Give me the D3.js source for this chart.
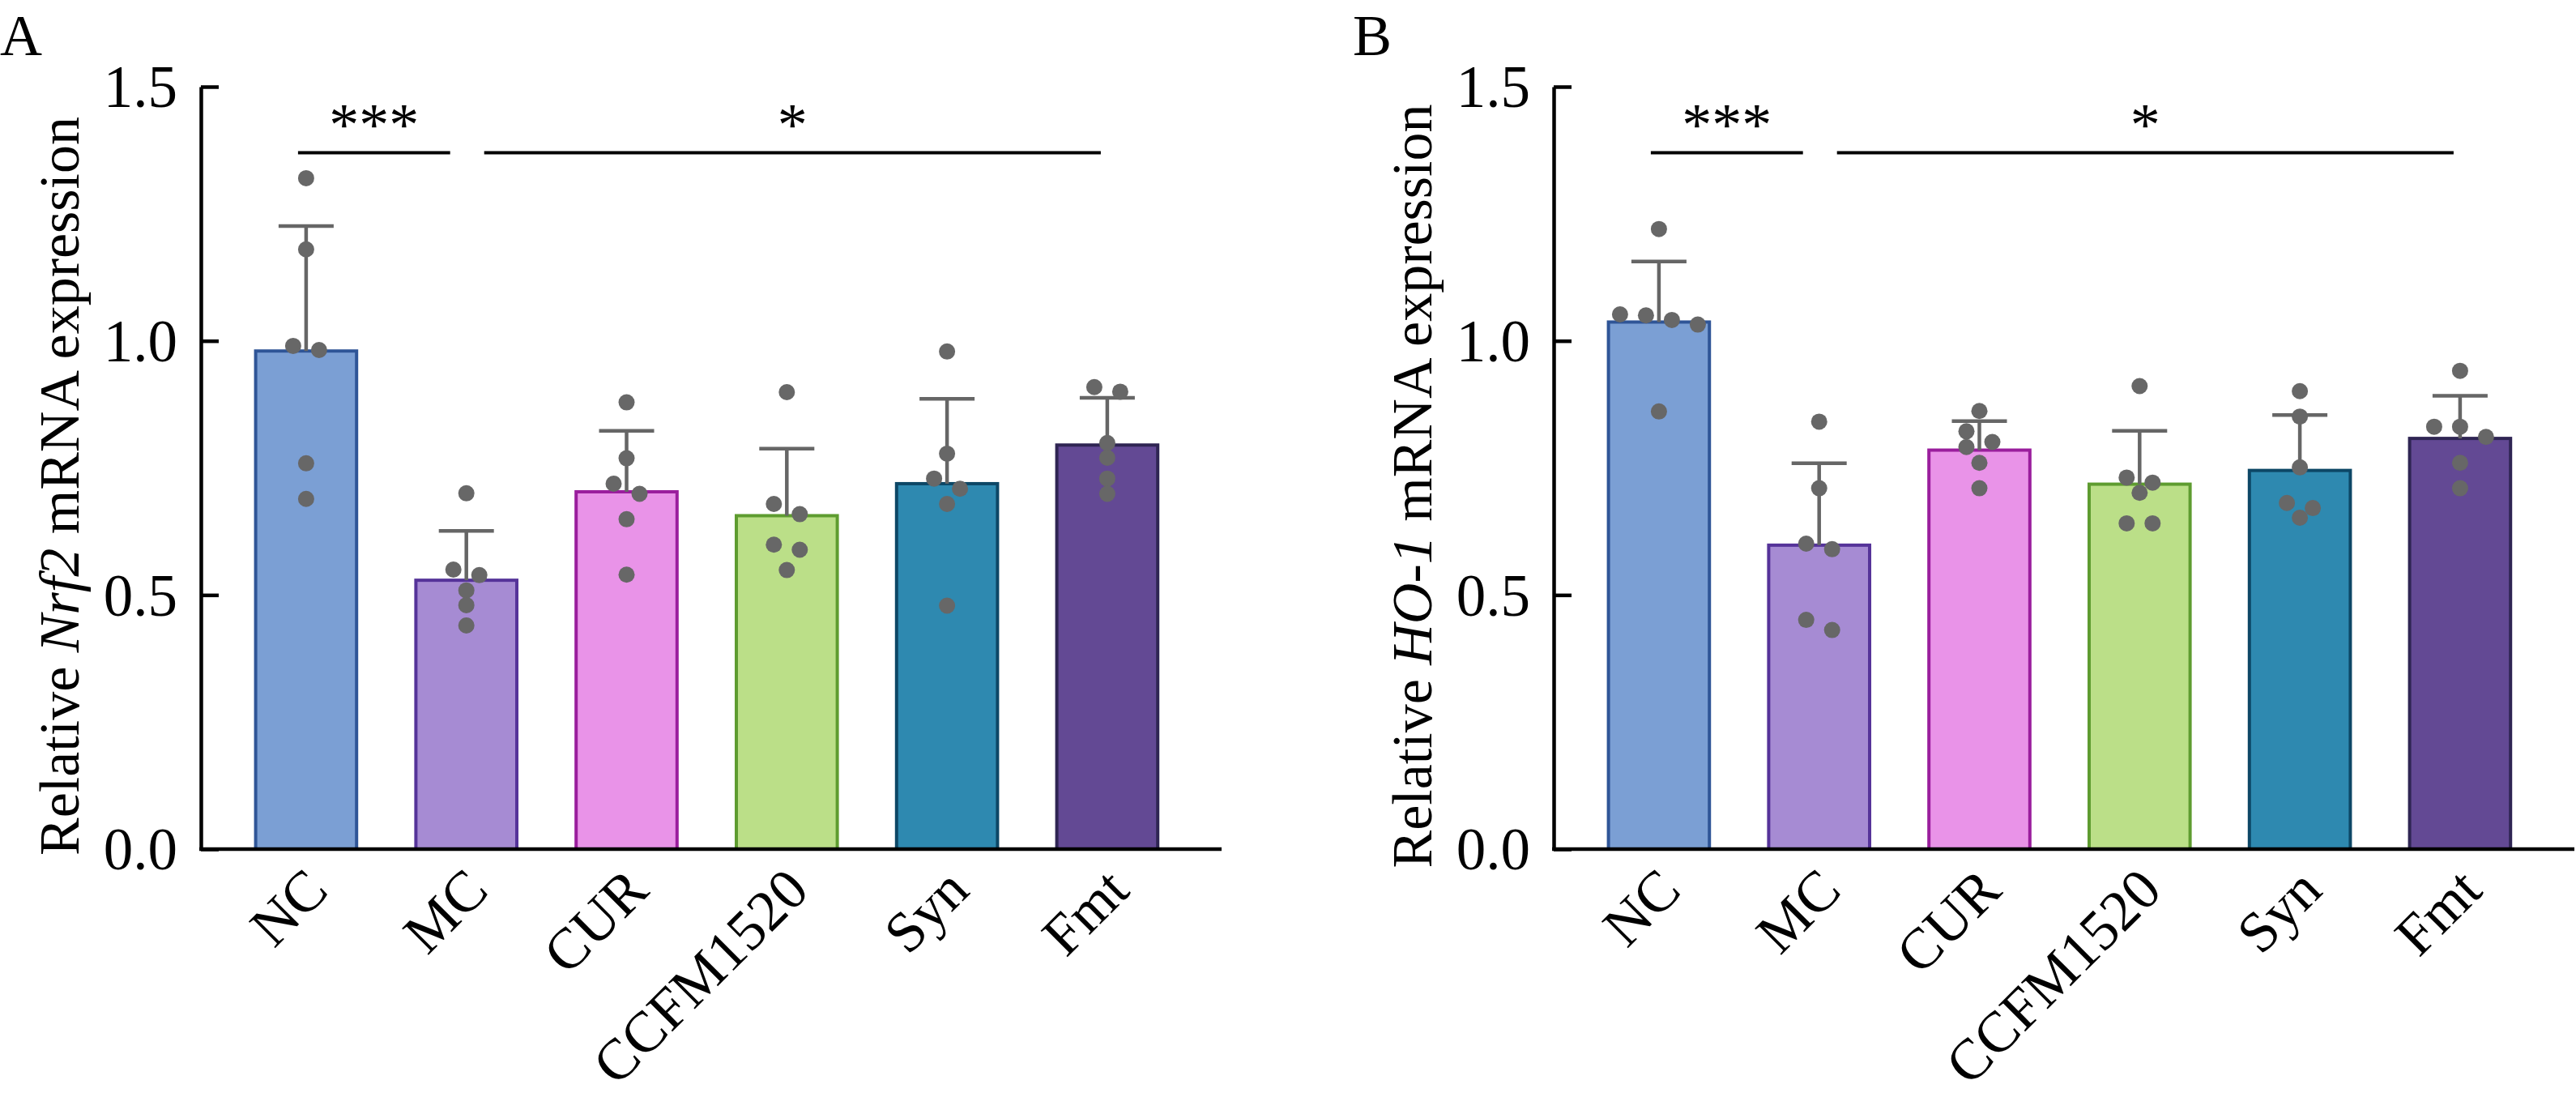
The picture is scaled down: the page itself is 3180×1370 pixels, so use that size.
<!DOCTYPE html>
<html>
<head>
<meta charset="utf-8">
<script src="https://cdn.jsdelivr.net/npm/d3@7"></script>
<style>
  body { margin: 0; background: #fff; }
  text { font-family: "Liberation Serif", "Times New Roman", serif; fill: #000; }
</style>
</head>
<body>
<div id="chart"></div>
<script>
// group names, bar colours
var groups = ["NC", "MC", "CUR", "CCFM1520", "Syn", "Fmt"];
var fills = ["#7b9fd4", "#a68bd3", "#e993e8", "#bbdf88", "#2e89b0", "#634994"];
var strokes = ["#2f5597", "#553399", "#9a1e9d", "#5e9c30", "#0d4766", "#2f2553"];
var yTicks = [0, 0.5, 1.0, 1.5];

// panel A: Nrf2
var meanA = [0.980, 0.529, 0.703, 0.656, 0.719, 0.795];
var sdA = [0.246, 0.097, 0.120, 0.132, 0.167, 0.093];
var dotsA = [
  [1.320, 1.180, 0.990, 0.982, 0.759, 0.689],
  [0.700, 0.550, 0.539, 0.509, 0.480, 0.440],
  [0.879, 0.769, 0.719, 0.699, 0.649, 0.540],
  [0.899, 0.679, 0.659, 0.599, 0.589, 0.549],
  [0.979, 0.778, 0.729, 0.709, 0.679, 0.479],
  [0.909, 0.900, 0.799, 0.770, 0.729, 0.699]
];

// panel B: HO-1
var meanB = [1.037, 0.598, 0.785, 0.718, 0.745, 0.808];
var sdB = [0.119, 0.161, 0.057, 0.105, 0.109, 0.084];
var dotsB = [
  [1.220, 1.052, 1.050, 1.041, 1.032, 0.861],
  [0.841, 0.710, 0.601, 0.590, 0.451, 0.431],
  [0.862, 0.822, 0.801, 0.791, 0.760, 0.710],
  [0.911, 0.731, 0.721, 0.701, 0.641, 0.641],
  [0.901, 0.851, 0.751, 0.681, 0.671, 0.652],
  [0.941, 0.831, 0.831, 0.811, 0.760, 0.710]
];

// significance bars: [from group, to group, label]
var sigs = [[0, 1, "***"], [1, 5, "*"]];
var sigLevel = 1.37;

var W = 3180, H = 1370;
var svg = d3.select("#chart").append("svg").attr("width", W).attr("height", H);

var y = d3.scaleLinear().domain([0, 1.5]).range([1048, 107]);

function panel(ox, letter, gene, means, sds, dots) {
  var g = svg.append("g");
  var x = d3.scaleBand().domain(groups)
    .range([ox + 31, ox + 31 + 6 * 197.8])
    .paddingInner(0.37).paddingOuter(0.185);
  var bw = x.bandwidth();

  // bars
  g.selectAll("rect.bar").data(groups).enter().append("rect")
    .attr("class", "bar")
    .attr("x", function (d) { return x(d); })
    .attr("y", function (d, i) { return y(means[i]); })
    .attr("width", bw)
    .attr("height", function (d, i) { return y(0) - y(means[i]); })
    .style("fill", function (d, i) { return fills[i]; })
    .style("stroke", function (d, i) { return strokes[i]; })
    .style("stroke-width", 4);

  // error bars (mean + SD)
  var eb = g.selectAll("g.err").data(groups).enter().append("g").attr("class", "err");
  eb.append("line")
    .attr("x1", function (d) { return x(d) + bw / 2; })
    .attr("x2", function (d) { return x(d) + bw / 2; })
    .attr("y1", function (d, i) { return y(means[i]); })
    .attr("y2", function (d, i) { return y(means[i] + sds[i]); })
    .style("stroke", "#666").style("stroke-width", 4.5);
  eb.append("line")
    .attr("x1", function (d) { return x(d) + bw / 2 - 34; })
    .attr("x2", function (d) { return x(d) + bw / 2 + 34; })
    .attr("y1", function (d, i) { return y(means[i] + sds[i]); })
    .attr("y2", function (d, i) { return y(means[i] + sds[i]); })
    .style("stroke", "#666").style("stroke-width", 4.5);

  // scatter: rows of close values spread sideways, singles nudged if they collide
  var pts = [];
  groups.forEach(function (grp, gi) {
    var cx = x(grp) + bw / 2;
    var vals = dots[gi].slice().sort(function (a, b) { return b - a; });
    var rows = [];
    vals.forEach(function (v) {
      var last = rows[rows.length - 1];
      if (last && (y(v) - y(last[0])) < 15) last.push(v);
      else rows.push([v]);
    });
    var placed = [];
    rows.forEach(function (row) {
      if (row.length > 1) {
        row.forEach(function (v, k) {
          placed.push({ cx: cx + (k - (row.length - 1) / 2) * 32, cy: y(v) });
        });
      } else {
        var cy = y(row[0]);
        var offs = [0, -16, 16, -32, 32];
        for (var j = 0; j < offs.length; j++) {
          var px = cx + offs[j];
          var hit = placed.some(function (q) {
            return Math.hypot(q.cx - px, q.cy - cy) < 18;
          });
          if (!hit || j === offs.length - 1) { placed.push({ cx: px, cy: cy }); break; }
        }
      }
    });
    pts = pts.concat(placed);
  });
  g.selectAll("circle.dot").data(pts).enter().append("circle")
    .attr("class", "dot")
    .attr("cx", function (d) { return d.cx; })
    .attr("cy", function (d) { return d.cy; })
    .attr("r", 10)
    .style("fill", "#676767");

  // y axis
  var ya = g.append("g").attr("transform", "translate(" + ox + ",0)")
    .call(d3.axisLeft(y).tickValues(yTicks).tickFormat(d3.format(".1f"))
      .tickSizeInner(-22).tickSizeOuter(0).tickPadding(29));
  ya.select(".domain").style("stroke", "#000").style("stroke-width", 4.5);
  ya.selectAll(".tick line").style("stroke", "#000").style("stroke-width", 4.5);
  ya.selectAll(".tick text").style("font-size", "73px")
    .style("font-family", "'Liberation Serif', 'Times New Roman', serif").attr("dy", "0.34em");

  // x axis line
  g.append("line").attr("x1", ox - 2).attr("x2", ox + 1260)
    .attr("y1", y(0)).attr("y2", y(0))
    .style("stroke", "#000").style("stroke-width", 4.5);

  // x labels
  var xa = g.append("g").attr("transform", "translate(0," + y(0) + ")")
    .call(d3.axisBottom(x).tickSize(0));
  xa.select(".domain").remove();
  xa.selectAll(".tick text")
    .attr("x", 0).attr("y", 0).attr("dy", "0")
    .attr("transform", "translate(30,54) rotate(-45)")
    .style("text-anchor", "end")
    .style("font-size", "71px")
    .style("font-family", "'Liberation Serif', 'Times New Roman', serif");

  // y title
  var t = g.append("text")
    .attr("transform", "translate(" + (ox - 151) + ",600) rotate(-90)")
    .style("text-anchor", "middle").style("font-size", "70px");
  t.append("tspan").text("Relative ");
  t.append("tspan").style("font-style", "italic").text(gene);
  t.append("tspan").text(" mRNA expression");

  // significance
  sigs.forEach(function (s, k) {
    var c0 = x(groups[s[0]]) + bw / 2, c1 = x(groups[s[1]]) + bw / 2;
    var x1 = k === 0 ? c0 - 10 : c0 + 22;
    var x2 = k === 0 ? c1 - 20 : c1 - 8;
    g.append("line").attr("x1", x1).attr("x2", x2)
      .attr("y1", y(sigLevel)).attr("y2", y(sigLevel))
      .style("stroke", "#000").style("stroke-width", 4);
    g.append("text").attr("x", (x1 + x2) / 2).attr("y", y(sigLevel) - 10)
      .style("text-anchor", "middle").style("font-size", "74px").text(s[2]);
  });

  // panel letter
  svg.append("text").attr("x", ox - 248).attr("y", 68)
    .style("font-size", "72px").text(letter);
}

panel(248, "A", "Nrf2", meanA, sdA, dotsA);
panel(1918, "B", "HO-1", meanB, sdB, dotsB);
</script>
</body>
</html>
